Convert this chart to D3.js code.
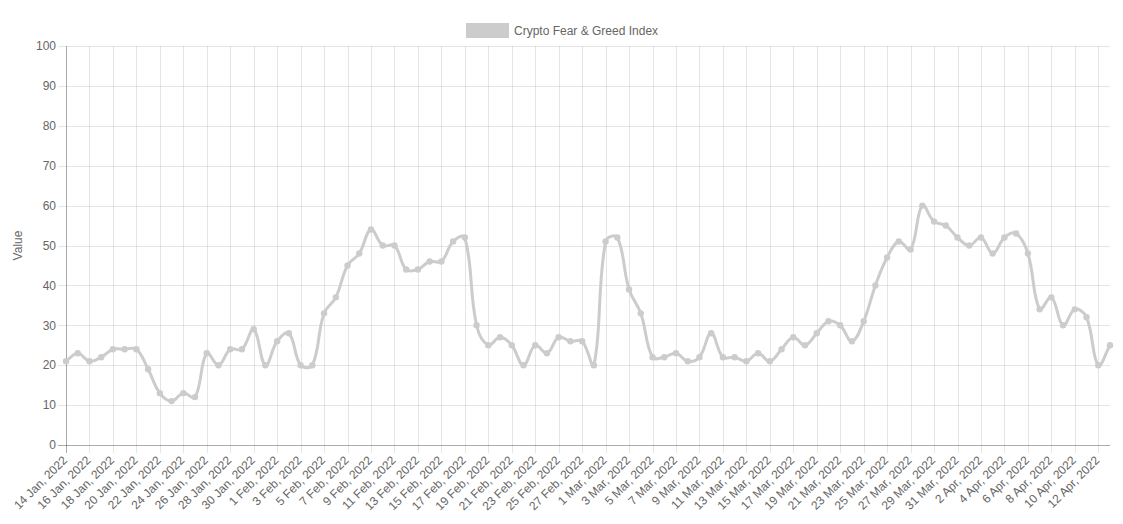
<!DOCTYPE html>
<html>
<head>
<meta charset="utf-8">
<script src="https://cdn.jsdelivr.net/npm/d3@7"></script>
<style>
  html, body { margin: 0; padding: 0; background: #fff; }
  svg { display: block; font-family: "Liberation Sans", Arial, Helvetica, sans-serif; }
</style>
</head>
<body>
<svg id="chart" width="1123" height="524"></svg>
<script>
const seriesName = "Crypto Fear & Greed Index";
const yAxisTitle = "Value";
const dates = [
  "14 Jan, 2022","15 Jan, 2022","16 Jan, 2022","17 Jan, 2022","18 Jan, 2022","19 Jan, 2022","20 Jan, 2022","21 Jan, 2022","22 Jan, 2022","23 Jan, 2022",
  "24 Jan, 2022","25 Jan, 2022","26 Jan, 2022","27 Jan, 2022","28 Jan, 2022","29 Jan, 2022","30 Jan, 2022","31 Jan, 2022",
  "1 Feb, 2022","2 Feb, 2022","3 Feb, 2022","4 Feb, 2022","5 Feb, 2022","6 Feb, 2022","7 Feb, 2022","8 Feb, 2022","9 Feb, 2022","10 Feb, 2022",
  "11 Feb, 2022","12 Feb, 2022","13 Feb, 2022","14 Feb, 2022","15 Feb, 2022","16 Feb, 2022","17 Feb, 2022","18 Feb, 2022","19 Feb, 2022","20 Feb, 2022",
  "21 Feb, 2022","22 Feb, 2022","23 Feb, 2022","24 Feb, 2022","25 Feb, 2022","26 Feb, 2022","27 Feb, 2022","28 Feb, 2022",
  "1 Mar, 2022","2 Mar, 2022","3 Mar, 2022","4 Mar, 2022","5 Mar, 2022","6 Mar, 2022","7 Mar, 2022","8 Mar, 2022","9 Mar, 2022","10 Mar, 2022",
  "11 Mar, 2022","12 Mar, 2022","13 Mar, 2022","14 Mar, 2022","15 Mar, 2022","16 Mar, 2022","17 Mar, 2022","18 Mar, 2022","19 Mar, 2022","20 Mar, 2022",
  "21 Mar, 2022","22 Mar, 2022","23 Mar, 2022","24 Mar, 2022","25 Mar, 2022","26 Mar, 2022","27 Mar, 2022","28 Mar, 2022","29 Mar, 2022","30 Mar, 2022","31 Mar, 2022",
  "1 Apr, 2022","2 Apr, 2022","3 Apr, 2022","4 Apr, 2022","5 Apr, 2022","6 Apr, 2022","7 Apr, 2022","8 Apr, 2022","9 Apr, 2022","10 Apr, 2022",
  "11 Apr, 2022","12 Apr, 2022","13 Apr, 2022"
];
const values = [
  21,23,21,22,24,24,24,19,13,11,
  13,12,23,20,24,24,29,20,
  26,28,20,20,33,37,45,48,54,50,
  50,44,44,46,46,51,52,30,25,27,
  25,20,25,23,27,26,26,20,
  51,52,39,33,22,22,23,21,22,28,
  22,22,21,23,21,24,27,25,28,31,
  30,26,31,40,47,51,49,60,56,55,52,
  50,52,48,52,53,48,34,37,30,34,
  32,20,25
];
const yTicks = [0,10,20,30,40,50,60,70,80,90,100];

const lineColor = "rgb(204,204,204)";
const textColor = "#666";
const gridColor = "rgba(0,0,0,0.1)";
const axisColor = "rgba(0,0,0,0.25)";

(function () {
const svg = d3.select("#chart");
const pLeft = 66, pRight = 1110, pTop = 46, pBottom = 445;

const x = d3.scalePoint().domain(dates).range([pLeft, pRight]);
const y = d3.scaleLinear().domain([0, 100]).range([pBottom, pTop]);

const labelDates = dates.filter((d, i) => i % 2 === 0);

// grid lines
const g = svg.append("g");
g.selectAll("line.vgrid").data(labelDates).join("line")
  .attr("x1", d => Math.round(x(d)) + 0.5).attr("x2", d => Math.round(x(d)) + 0.5)
  .attr("y1", pTop).attr("y2", pBottom + 8)
  .attr("stroke", gridColor).attr("stroke-width", 1);
g.selectAll("line.hgrid").data(yTicks).join("line")
  .attr("x1", pLeft - 8).attr("x2", pRight)
  .attr("y1", d => Math.round(y(d)) + 0.5).attr("y2", d => Math.round(y(d)) + 0.5)
  .attr("stroke", gridColor).attr("stroke-width", 1);

// axis lines
svg.append("line").attr("x1", pLeft + 0.5).attr("x2", pLeft + 0.5).attr("y1", pTop).attr("y2", pBottom + 8)
  .attr("stroke", axisColor);
svg.append("line").attr("x1", pLeft - 8).attr("x2", pRight).attr("y1", pBottom + 0.5).attr("y2", pBottom + 0.5)
  .attr("stroke", axisColor);

// y tick labels
svg.append("g").selectAll("text").data(yTicks).join("text")
  .attr("x", pLeft - 10).attr("y", d => y(d)).attr("dy", "0.35em")
  .attr("text-anchor", "end").attr("fill", textColor).attr("font-size", 12)
  .text(d => d);

// x tick labels rotated
svg.append("g").selectAll("text").data(labelDates).join("text")
  .attr("transform", d => `translate(${x(d) - 1},${pBottom + 13}) rotate(-45)`)
  .attr("text-anchor", "end").attr("dy", "0.35em").attr("fill", textColor).attr("font-size", 12)
  .text(d => d);

// y axis title
svg.append("text")
  .attr("transform", `translate(${22},${(pTop + pBottom) / 2}) rotate(-90)`)
  .attr("text-anchor", "middle").attr("fill", textColor).attr("font-size", 12)
  .text(yAxisTitle);

// Chart.js-style spline (tension 0.4)
const pts = values.map((v, i) => [x(dates[i]), y(v)]);
const tension = 0.4;
const cps = pts.map((p, i) => {
  const prev = pts[Math.max(0, i - 1)], next = pts[Math.min(pts.length - 1, i + 1)];
  const d01 = Math.hypot(p[0] - prev[0], p[1] - prev[1]);
  const d12 = Math.hypot(next[0] - p[0], next[1] - p[1]);
  let s01 = d01 / (d01 + d12), s12 = d12 / (d01 + d12);
  s01 = isNaN(s01) ? 0 : s01; s12 = isNaN(s12) ? 0 : s12;
  const fa = tension * s01, fb = tension * s12;
  return {
    prev: [p[0] - fa * (next[0] - prev[0]), p[1] - fa * (next[1] - prev[1])],
    next: [p[0] + fb * (next[0] - prev[0]), p[1] + fb * (next[1] - prev[1])]
  };
});
const path = d3.path();
path.moveTo(pts[0][0], pts[0][1]);
for (let i = 1; i < pts.length; i++) {
  const c1 = cps[i - 1].next, c2 = cps[i].prev;
  path.bezierCurveTo(c1[0], c1[1], c2[0], c2[1], pts[i][0], pts[i][1]);
}
svg.append("path").attr("d", path.toString())
  .attr("fill", "none").attr("stroke", lineColor).attr("stroke-width", 3)
  .attr("stroke-linejoin", "round");

svg.append("g").selectAll("circle").data(values).join("circle")
  .attr("cx", (d, i) => x(dates[i])).attr("cy", d => y(d)).attr("r", 3.2)
  .attr("fill", lineColor);

// legend
const legend = svg.append("g");
legend.append("rect").attr("x", 466).attr("y", 23).attr("width", 43).attr("height", 15)
  .attr("fill", lineColor);
legend.append("text").attr("x", 514).attr("y", 30.5).attr("dy", "0.35em")
  .attr("fill", textColor).attr("font-size", 12).text(seriesName);
})();
</script>
</body>
</html>
